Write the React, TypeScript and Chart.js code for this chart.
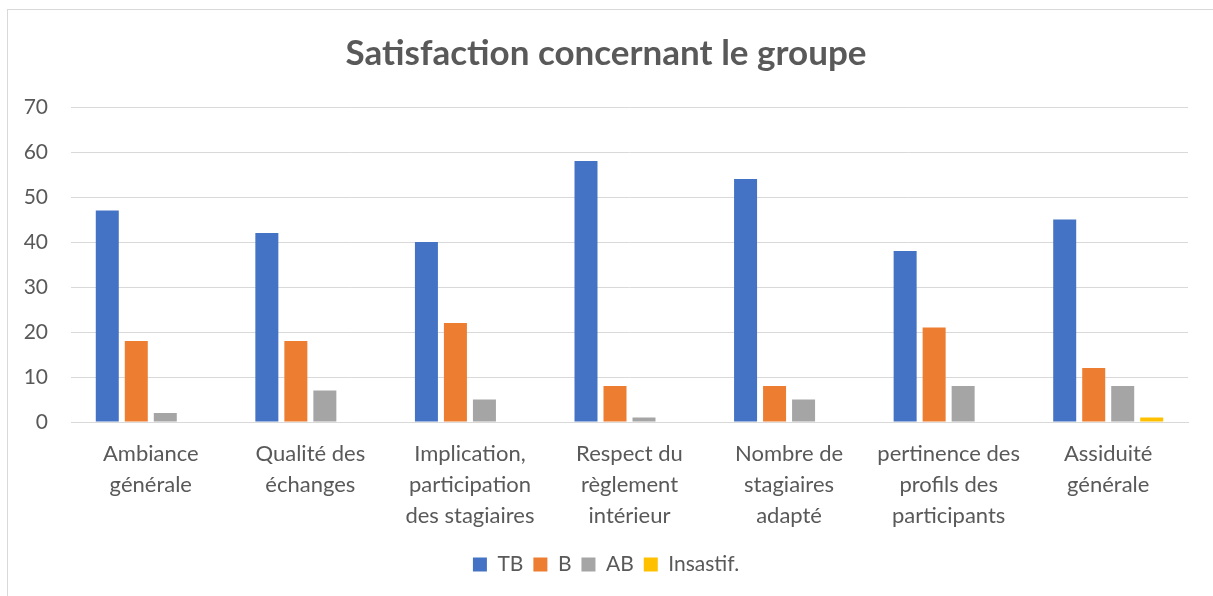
import React, { useEffect, useRef } from "react";
import { Chart, registerables } from "chart.js";

Chart.register(...registerables);

const categories: string[][] = [
  ["Ambiance", "générale"],
  ["Qualité des", "échanges"],
  ["Implication,", "participation", "des stagiaires"],
  ["Respect du", "règlement", "intérieur"],
  ["Nombre de", "stagiaires", "adapté"],
  ["pertinence des", "profils des", "participants"],
  ["Assiduité", "générale"],
];

const seriesTB = [47, 42, 40, 58, 54, 38, 45];
const seriesB = [18, 18, 22, 8, 8, 21, 12];
const seriesAB = [2, 7, 5, 1, 5, 8, 8];
const seriesInsatisf = [0, 0, 0, 0, 0, 0, 1];

const seriesNames = ["TB", "B", "AB", "Insastif."];
const seriesColors = ["#4472C4", "#ED7D31", "#A5A5A5", "#FFC000"];
const yTicks = { min: 0, max: 70, step: 10 };
const title = "Satisfaction concernant le groupe";

const FONT = "Lato, 'Open Sans', sans-serif";
const TEXT = "#595959";

export default function App() {
  const ref = useRef<HTMLCanvasElement | null>(null);

  useEffect(() => {
    document.body.style.margin = "0";
    document.body.style.overflow = "hidden";
    const canvas = ref.current;
    if (!canvas) return;
    const values = [seriesTB, seriesB, seriesAB, seriesInsatisf];
    const chart = new Chart(canvas, {
      type: "bar",
      data: {
        labels: categories,
        datasets: values.map((v, i) => ({
          label: seriesNames[i],
          data: v,
          backgroundColor: seriesColors[i],
          borderWidth: 0,
          categoryPercentage: 0.727,
          barPercentage: 0.793,
        })),
      },
      options: {
        responsive: false,
        animation: false,
        devicePixelRatio: 1,
        layout: { padding: { left: 24, right: 25, top: 0, bottom: 11 } },
        plugins: {
          title: {
            display: true,
            text: title,
            color: TEXT,
            font: { family: FONT, size: 35, weight: "bold" },
            padding: { top: 33, bottom: 32 },
          },
          legend: {
            position: "bottom",
            labels: {
              boxWidth: 14,
              boxHeight: 14,
              padding: 10,
              color: TEXT,
              font: { family: FONT, size: 21 },
            },
          },
          tooltip: { enabled: false },
        },
        scales: {
          x: {
            grid: { display: false },
            border: { display: true, color: "#d9d9d9", width: 1 },
            ticks: {
              color: TEXT,
              font: { family: FONT, size: 22, lineHeight: 1.41 },
              padding: 8,
              maxRotation: 0,
              minRotation: 0,
              autoSkip: false,
            },
            afterFit: (s: any) => {
              s.height = 122;
            },
          },
          y: {
            min: yTicks.min,
            max: yTicks.max,
            grid: { color: "#d9d9d9", lineWidth: 1, drawTicks: false },
            border: { display: false },
            ticks: {
              stepSize: yTicks.step,
              color: TEXT,
              font: { family: FONT, size: 21 },
              padding: 23,
            },
            afterFit: (s: any) => {
              s.width = 47;
            },
          },
        },
      },
    });
    return () => chart.destroy();
  }, []);

  return (
    <div style={{ position: "relative", width: 1213, height: 596, overflow: "hidden", background: "#fff" }}>
      <div
        style={{
          position: "absolute",
          left: 7,
          top: 9,
          width: 1300,
          height: 700,
          border: "1px solid #d9d9d9",
          boxSizing: "border-box",
        }}
      />
      <canvas ref={ref} width={1213} height={596} style={{ position: "absolute", left: 0, top: 0 }} />
    </div>
  );
}
